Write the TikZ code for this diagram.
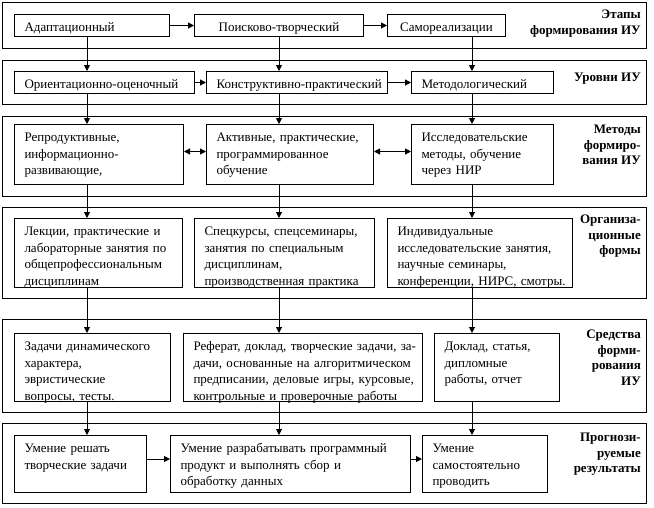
\documentclass[tikz,border=0pt]{standalone}
\usepackage{fontspec}
\setmainfont{Liberation Serif}
\usetikzlibrary{arrows.meta,positioning}
\definecolor{IuInk}{RGB}{0,0,0}
\newcommand{\iufont}{\fontsize{13}{16.5}\selectfont}
\newcommand{\iutitlefont}{\fontsize{13}{15.5}\selectfont\bfseries}
% lines of a cell, never wrapped
\newcommand{\iulines}[1]{\begin{tabular}[t]{@{}l@{}}#1\end{tabular}}
\tikzset{
  iu/band/.style 2 args={
    draw=IuInk,
    line width=1pt,
    anchor=north west,
    inner sep=0pt,
    minimum width=#1pt,
    minimum height=#2pt
  },
  iu/cell/.style 2 args={
    draw=IuInk,
    line width=1pt,
    fill=white,
    anchor=north west,
    align=left,
    text=IuInk,
    font=\iufont,
    inner xsep=10pt,
    inner ysep=4pt,
    minimum width=#1pt,
    minimum height=#2pt,
    /utils/exec={\pgfmathsetmacro\iutw{#1-20}\pgfmathsetmacro\iutd{#2-21}},
    text width=\iutw pt,
    text height=13pt,
    text depth=\iutd pt
  },
  iu/title/.style={anchor=north east, align=right, inner sep=0pt, font=\iutitlefont, text=IuInk},
  iu/arrow/.style={-{Triangle[length=6pt,width=6pt]}, line width=1pt, draw=IuInk},
  iu/duplex/.style={{Triangle[length=6pt,width=6pt]}-{Triangle[length=6pt,width=6pt]}, line width=1pt, draw=IuInk}
}

\begin{document}
\begin{tikzpicture}[x=1pt,y=-1pt]
  \useasboundingbox (0,0) rectangle (654,507);
  % frames of the six levels
  \node[iu/band={644}{46}] (f1) at (2,2) {};
  \node[iu/band={644}{44}] (f2) at (2,60) {};
  \node[iu/band={644}{80}] (f3) at (2,116) {};
  \node[iu/band={644}{91}] (f4) at (2,207) {};
  \node[iu/band={644}{93}] (f5) at (2,319) {};
  \node[iu/band={644}{80}] (f6) at (2,423) {};
  % captions
  \node[iu/title] (t1) at (641,10) {Этапы\\формирования ИУ};
  \node[iu/title] (t2) at (641,73) {Уровни ИУ};
  \node[iu/title] (t3) at (641,125) {Методы\\формиро-\\вания ИУ};
  \node[iu/title] (t4) at (641,215) {Организа-\\ционные\\формы};
  \node[iu/title] (t5) at (641,330) {Средства\\форми-\\рования\\ИУ};
  \node[iu/title] (t6) at (641,433) {Прогнози-\\руемые\\результаты};
  % columns
  \coordinate (col1) at (87,0);
  \coordinate (col2) at (279,0);
  \coordinate (col3) at (472,0);
  % stages
  \node[iu/cell={155}{22}] (a1) at (14,14) {\iulines{Адаптационный}};
  \node[iu/cell={169}{22},align=center] (b1) at (194,14) {\iulines{Поисково-творческий}};
  \node[iu/cell={118}{22},align=center] (c1) at (387,14) {\iulines{Самореализации}};
  % levels
  \node[iu/cell={180}{22}] (a2) at (14,71) {\iulines{Ориентационно-оценочный}};
  \node[iu/cell={181}{22}] (b2) at (206,71) {\iulines{Конструктивно-практический}};
  \node[iu/cell={142}{22}] (c2) at (411,71) {\iulines{Методологический}};
  % methods
  \node[iu/cell={169}{60}] (a3) at (14,124) {\iulines{Репродуктивные,\\информационно-\\развивающие,}};
  \node[iu/cell={167}{60}] (b3) at (206,124) {\iulines{Активные, практические,\\программированное\\обучение}};
  \node[iu/cell={142}{60}] (c3) at (411,124) {\iulines{Исследовательские\\методы, обучение\\через НИР}};
  % forms
  \node[iu/cell={168}{69}] (a4) at (14,218) {\iulines{Лекции, практические и\\лабораторные занятия по\\общепрофессиональным\\дисциплинам}};
  \node[iu/cell={180}{69}] (b4) at (194,218) {\iulines{Спецкурсы, спецсеминары,\\занятия по специальным\\дисциплинам,\\производственная практика}};
  \node[iu/cell={185}{69}] (c4) at (387,218) {\iulines{Индивидуальные\\исследовательские занятия,\\научные семинары,\\конференции, НИРС, смотры.}};
  % means
  \node[iu/cell={156}{68}] (a5) at (14,333) {\iulines{Задачи динамического\\характера,\\эвристические\\вопросы, тесты.}};
  \node[iu/cell={239}{68}] (b5) at (183,333) {\iulines{Реферат, доклад, творческие задачи, за-\\дачи, основанные на алгоритмическом\\предписании, деловые игры, курсовые,\\контрольные и проверочные работы}};
  \node[iu/cell={125}{68}] (c5) at (434,333) {\iulines{Доклад, статья,\\дипломные\\работы, отчет}};
  % results
  \node[iu/cell={132}{57}] (a6) at (14,435) {\iulines{Умение решать\\творческие задачи}};
  \node[iu/cell={240}{57}] (b6) at (170,435) {\iulines{Умение разрабатывать программный\\продукт и выполнять сбор и\\обработку данных}};
  \node[iu/cell={125}{57}] (c6) at (422,435) {\iulines{Умение\\самостоятельно\\проводить}};
  % horizontal links
  \draw[iu/arrow] (a1) -- (b1);
  \draw[iu/arrow] (b1) -- (c1);
  \draw[iu/arrow] (a2) -- (b2);
  \draw[iu/arrow] (b2) -- (c2);
  \draw[iu/duplex] ([yshift=3pt]a3.east) -- ([yshift=3pt]b3.west);
  \draw[iu/duplex] ([yshift=3pt]b3.east) -- ([yshift=3pt]c3.west);
  \draw[iu/arrow] ([yshift=5pt]a6.east) -- ([yshift=5pt]b6.west);
  \draw[iu/arrow] ([yshift=5pt]b6.east) -- ([yshift=5pt]c6.west);
  % vertical links
  \draw[iu/arrow] (a1.south -| col1) -- (a2.north -| col1);
  \draw[iu/arrow] (b1.south -| col2) -- (b2.north -| col2);
  \draw[iu/arrow] (c1.south -| col3) -- (c2.north -| col3);
  \draw[iu/arrow] (a2.south -| col1) -- (a3.north -| col1);
  \draw[iu/arrow] (b2.south -| col2) -- (b3.north -| col2);
  \draw[iu/arrow] (c2.south -| col3) -- (c3.north -| col3);
  \draw[iu/arrow] (a3.south -| col1) -- (a4.north -| col1);
  \draw[iu/arrow] (b3.south -| col2) -- (b4.north -| col2);
  \draw[iu/arrow] (c3.south -| col3) -- (c4.north -| col3);
  \draw[iu/arrow] (a4.south -| col1) -- (a5.north -| col1);
  \draw[iu/arrow] (b4.south -| col2) -- (b5.north -| col2);
  \draw[iu/arrow] (c4.south -| col3) -- (c5.north -| col3);
  \draw[iu/arrow] (a5.south -| col1) -- (a6.north -| col1);
  \draw[iu/arrow] (b5.south -| col2) -- (b6.north -| col2);
  \draw[iu/arrow] (c5.south -| col3) -- (c6.north -| col3);
\end{tikzpicture}
\end{document}
